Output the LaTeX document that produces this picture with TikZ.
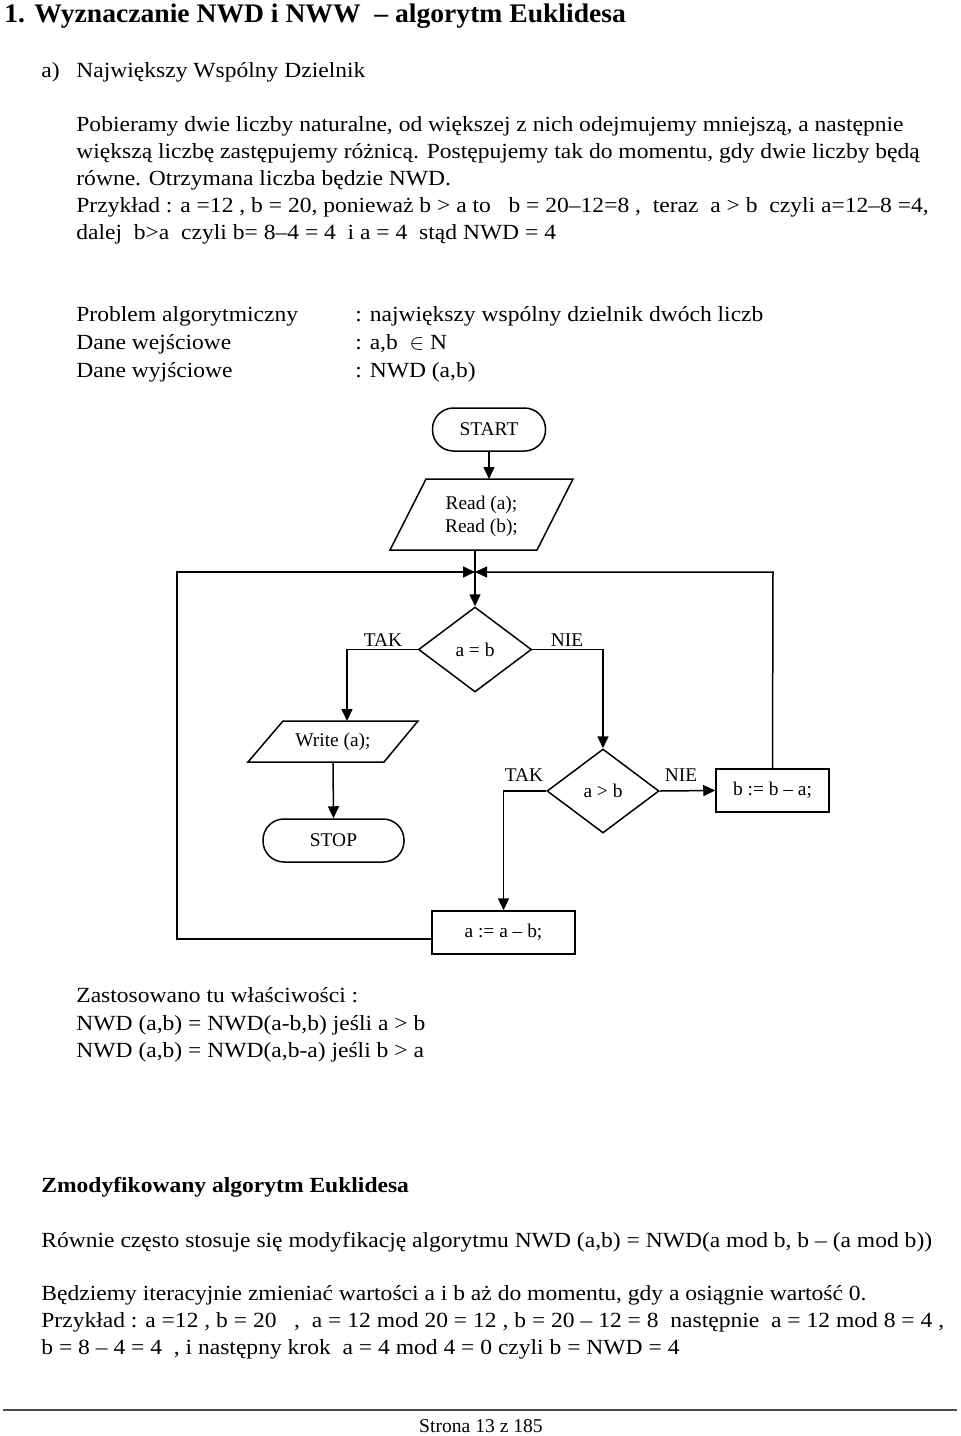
\documentclass[tikz,border=0pt]{standalone}
\usepackage{fontspec}
\setmainfont{Liberation Serif}[FakeStretch=1.09]
\newfontfamily\plainserif{Liberation Serif}
\newfontfamily\titleserif{Liberation Serif}[FakeStretch=1.03]
\usetikzlibrary{arrows.meta,shapes.geometric}
\newcommand\bodyfont{\fontsize{10.8pt}{11.5pt}\selectfont}
\newcommand\chartfont{\plainserif\fontsize{9.7pt}{11.5pt}\selectfont}
\newcommand\titlefont{\titleserif\fontsize{13.4pt}{15pt}\selectfont\bfseries}
\newcommand\footfont{\plainserif\fontsize{9.8pt}{11pt}\selectfont}
\begin{document}
\begin{tikzpicture}[x=0.5pt,y=-0.5pt,
  every node/.style={font=\bodyfont},
  txt/.style={anchor=base west,inner sep=0pt},
  ln/.style={line width=0.75pt},
  arr/.style={ln,-{Triangle[length=6pt,width=5.5pt]}},
  chart/.style={font=\chartfont},
  term/.style={chart,draw,ln,rounded corners=10.5pt,minimum height=21.5pt,inner sep=0pt},
  proc/.style={chart,draw,ln,rectangle,minimum height=21.5pt,inner sep=0pt},
  dec/.style={chart,draw,ln,diamond,inner sep=0pt},
  lbl/.style={chart,inner sep=0pt}]
\useasboundingbox (0,0) rectangle (960,1436);

% ---------- text ----------
\node[txt,font=\titlefont] (title) at (4,22) {1. Wyznaczanie NWD i NWW \ – algorytm Euklidesa};
\node[txt] (la) at (41,77) {a)};
\node[txt] (lah) at (76,77) {Największy Wspólny Dzielnik};
\node[txt] (p1) at (76,131) {Pobieramy dwie liczby naturalne, od większej z nich odejmujemy mniejszą, a następnie};
\node[txt] (p2) at (76,158) {większą liczbę zastępujemy różnicą. Postępujemy tak do momentu, gdy dwie liczby będą};
\node[txt] (p3) at (76,185) {równe. Otrzymana liczba będzie NWD.};
\node[txt] (p4) at (76,212) {Przykład : a =12 , b = 20, ponieważ b > a to \ \ b = 20–12=8 , \ teraz \ a > b \ czyli a=12–8 =4,};
\node[txt] (p5) at (76,239) {dalej \ b>a \ czyli b= 8–4 = 4 \ i a = 4 \ stąd NWD = 4};

\node[txt] (q1) at (76,321) {Problem algorytmiczny};
\node[txt] (q2) at (76,349) {Dane wejściowe};
\node[txt] (q3) at (76,377) {Dane wyjściowe};
\node[txt] (r1) at (355,321) {: największy wspólny dzielnik dwóch liczb};
\node[txt] (r2) at (355,349) {: a,b \ $\in$ N};
\node[txt] (r3) at (355,377) {: NWD (a,b)};

\node[txt] (z1) at (76,1002) {Zastosowano tu właściwości :};
\node[txt] (z2) at (76,1030) {NWD (a,b) = NWD(a-b,b) jeśli a > b};
\node[txt] (z3) at (76,1057) {NWD (a,b) = NWD(a,b-a) jeśli b > a};

\node[txt,font=\bodyfont\bfseries] (m0) at (41,1192) {Zmodyfikowany algorytm Euklidesa};
\node[txt] (m1) at (41,1247) {Równie często stosuje się modyfikację algorytmu NWD (a,b) = NWD(a mod b, b – (a mod b))};
\node[txt] (m2) at (41,1300) {Będziemy iteracyjnie zmieniać wartości a i b aż do momentu, gdy a osiągnie wartość 0.};
\node[txt] (m3) at (41,1327) {Przykład : a =12 , b = 20 \ \ , \ a = 12 mod 20 = 12 , b = 20 – 12 = 8 \ następnie \ a = 12 mod 8 = 4 ,};
\node[txt] (m4) at (41,1354) {b = 8 – 4 = 4 \ , i następny krok \ a = 4 mod 4 = 0 czyli b = NWD = 4};

\coordinate (fl) at (3,1410);
\coordinate (fr) at (957,1410);
\draw[line width=1pt,black!70] (fl) -- (fr);
\node[anchor=base,inner sep=0pt,font=\footfont] (foot) at (481,1432) {Strona 13 z 185};

% ---------- flowchart ----------
\node[term,minimum width=56.5pt] (start) at (489,429.5) {START};

\node[chart,align=center,inner sep=0pt] (read) at (481.5,516) {Read (a);\\Read (b);};
\coordinate (rtl) at (426,479); \coordinate (rtr) at (573,479);
\coordinate (rbr) at (537,550); \coordinate (rbl) at (390,550);
\draw[ln] (rtl) -- (rtr) -- (rbr) -- (rbl) -- cycle;

\node[dec,minimum width=56.5pt,minimum height=42.5pt] (d1) at (475,649.5) {a = b};
\node[lbl] (tak1) at (383,640) {TAK};
\node[lbl] (nie1) at (567,640) {NIE};

\node[chart,inner sep=0pt] (write) at (333,742) {Write (a);};
\coordinate (wtl) at (283,721); \coordinate (wtr) at (418,721);
\coordinate (wbr) at (384,762); \coordinate (wbl) at (248,762);
\draw[ln] (wtl) -- (wtr) -- (wbr) -- (wbl) -- cycle;

\node[term,minimum width=70.5pt] (stop) at (333.5,840.5) {STOP};

\node[dec,minimum width=56pt,minimum height=42pt] (d2) at (603,791) {a > b};
\node[lbl] (tak2) at (524,775) {TAK};
\node[lbl] (nie2) at (681,775) {NIE};

\node[proc,minimum width=71.5pt] (aab) at (503.5,932.5) {a := a – b;};
\node[proc,minimum width=56.5pt] (bba) at (772.5,790.5) {b := b – a;};

\coordinate (merge) at (475,572);
\coordinate (rin) at (489,479);
\coordinate (rout) at (475,550);
\coordinate (win) at (347,721);
\coordinate (wout) at (333,762);
\coordinate (aout) at (432,939);
\coordinate (lc1) at (177,939);
\coordinate (lc2) at (177,572);
\coordinate (rc1) at (773,572);

\draw[arr] (start.south) -- (rin);
\draw[arr] (rout) -- (d1.north);
\draw[arr] (aout) -- (lc1) -- (lc2) -- (merge);
\draw[arr] (bba.north) -- (rc1) -- (merge);
\draw[arr] (d1.west) -| (win);
\draw[arr] (wout) -- (stop.north);
\draw[arr] (d1.east) -| (d2.north);
\draw[arr] (d2.west) -| (aab.north);
\draw[arr] (d2.east) -- (bba.west);
\end{tikzpicture}
\end{document}
